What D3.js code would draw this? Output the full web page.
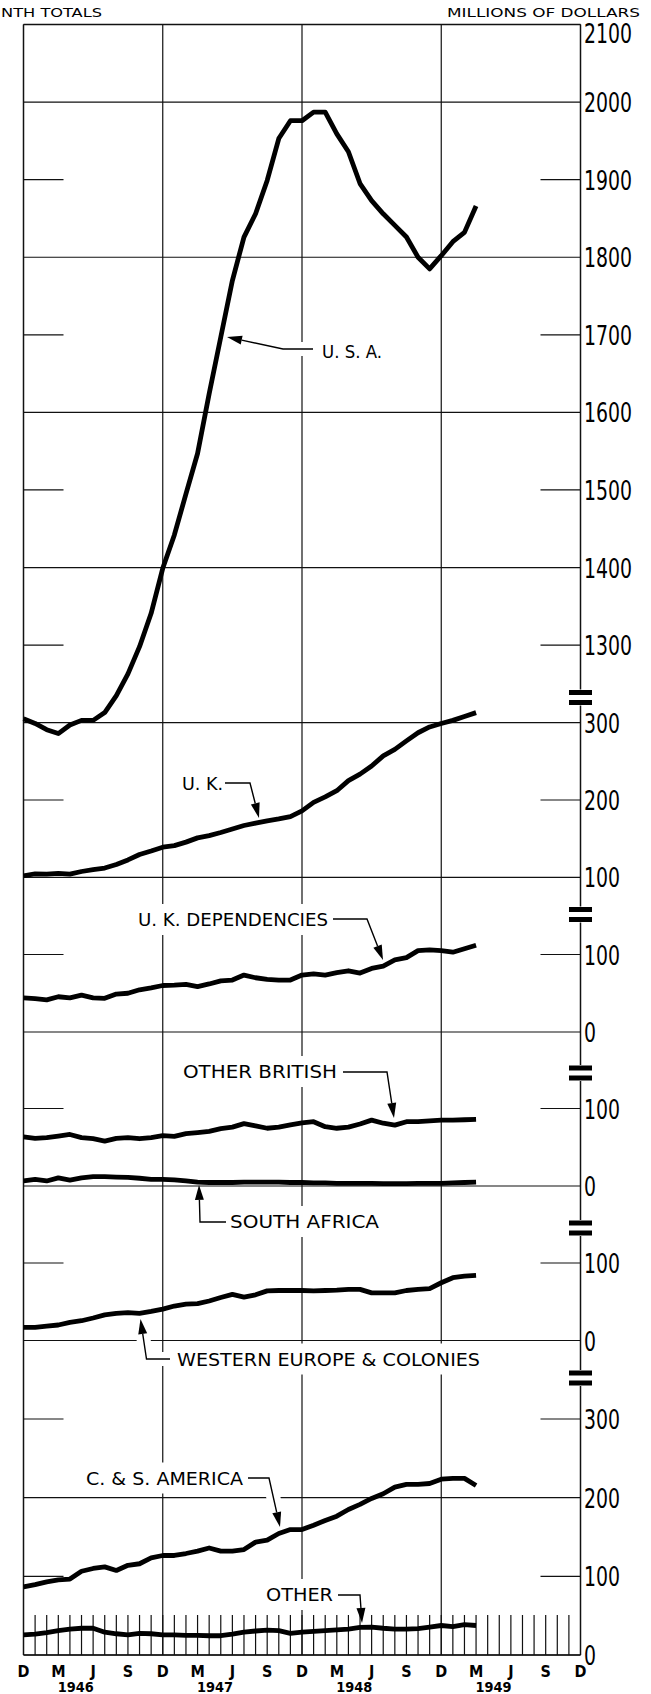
<!DOCTYPE html>
<html><head><meta charset="utf-8">
<script src="https://cdn.jsdelivr.net/npm/d3@7"></script>
<style>html,body{margin:0;padding:0;background:#fff;} svg{display:block;}</style>
</head><body>
<svg id="chart" width="651" height="1694"></svg>
<script>
// ---------- DATA (12-month totals, monthly Dec 1945 – Mar 1949) ----------
const monthLabels = ["D","M","J","S","D","M","J","S","D","M","J","S","D","M","J","S","D"];
const yearLabels = ["1946","1947","1948","1949"];

const usa = [1205,1199,1191,1186,1197,1203,1203,1213,1235,1263,1298,1341,1399,1442,1495,1547,1624,1697,1770,1826,1856,1899,1953,1976,1976,1987,1987,1959,1936,1895,1873,1856,1841,1826,1800,1785,1802,1820,1832,1866];
const uk = [102,104.5,104,105,104,107.5,110,112,116.5,122.5,129.5,134,139,141,145.5,151,154,158,162.5,167,170,173,175.5,178.5,186,197,204,212,225,233.5,244,257,265.5,276.5,287,294.5,299,303,308,313];
const ukDependencies = [44,43,41.5,45.5,44,47.5,44,43.5,49,50,54.5,57,60,60.5,61.5,58.5,62,66,67,73.5,70,68,67,67,73.5,75,73.5,76.5,79,76,82,85,93,96,105,106,105,103,107.5,112];
const otherBritish = [63.5,61.5,62.5,64.5,66.5,62.5,61,58,61.5,62.5,61,62.5,65,64,67.5,69,70.5,74,76,80.5,77.5,74.5,76,79,81.5,83,76.5,74.5,76,80,85,81,78.5,83,83,84,85,85,85.5,86];
const southAfrica = [6.5,8.5,6.5,10.5,7.5,10.5,12,12,11.5,11,10,8.5,8.5,8,6.5,5,4.5,4.5,4.5,5,5,5,5,4.5,4.5,4,4,3.5,3.5,3.5,3.5,3,3,3,3.5,3.5,3.5,4,4.5,5];
const westernEurope = [17,17,18.5,20,23.5,25.5,29,33,35,36,35,37.5,40.5,44.5,47,47.5,51,55.5,59.5,56,59,64,64.5,64.5,64.5,64,64.5,65,66,66,61.5,61.5,61.5,64.5,66,67,74.5,81,83,84];
const csAmerica = [86.5,89.5,93,95.5,96.5,106.5,110,112,107.5,114,116,123.5,126.5,126.5,129,132,136,132,132,134,143.5,146,154.5,159.5,159.5,165,171,176.5,185,191.5,199,205,213.5,217,217,218,223.5,224.5,224.5,215.5];
const other = [25.5,26.5,28.5,31,33,34,34,29,27,25.5,27.5,27,25.5,25.5,25,25,24.5,24.5,26.5,29,30.5,31.5,31,27.5,29,30,31,32,33,35,35.5,34,33,33,33.5,35.5,37.5,36,38.5,37.5];

const usaTicks = [2100,2000,1900,1800,1700,1600,1500,1400,1300];
const ukTicks = [300,200,100];
const ukDepTicks = [100,0];
const otherBritishTicks = [100,0];
const westernEuropeTicks = [100,0];
const csAmericaTicks = [300,200,100,0];

// ---------- LAYOUT ----------
const W = 651, H = 1694;
const svg = d3.select("#chart");
svg.append("rect").attr("width",W).attr("height",H).attr("fill","#fff");
const FONT = "'Liberation Sans Narrow','DejaVu Sans Condensed','Liberation Sans',sans-serif";

const x = d3.scaleLinear().domain([0,48]).range([23.5,580.5]);
const TOP = 24.5, BOTTOM = 1655;

const panels = [
  {series:[usa], ticks:usaTicks, y:d3.scaleLinear().domain([1200,2100]).range([722.7,TOP]), full:[2100,2000,1800,1600,1400,1200], short:[1900,1700,1500,1300]},
  {series:[uk], ticks:ukTicks, y:d3.scaleLinear().domain([100,300]).range([877.3,722.7]), full:[100], short:[200]},
  {series:[ukDependencies], ticks:ukDepTicks, y:d3.scaleLinear().domain([0,100]).range([1032,954.5]), full:[0], short:[100]},
  {series:[otherBritish,southAfrica], ticks:otherBritishTicks, y:d3.scaleLinear().domain([0,100]).range([1186,1108.5]), full:[0], short:[100]},
  {series:[westernEurope], ticks:westernEuropeTicks, y:d3.scaleLinear().domain([0,100]).range([1340.5,1263]), full:[0], short:[100]},
  {series:[csAmerica,other], ticks:csAmericaTicks, y:d3.scaleLinear().domain([0,300]).range([BOTTOM,1419]), full:[200,0], short:[300,100]}
];
const breaks = [697.5, 914.5, 1073, 1228, 1378];

const grid = svg.append("g").attr("stroke","#111").attr("stroke-width",1.2).attr("fill","none");
const L = x(0), R = x(48);

panels.forEach(p => {
  p.full.forEach(v => grid.append("line").attr("x1",L).attr("x2",R).attr("y1",p.y(v)).attr("y2",p.y(v)));
  p.short.forEach(v => {
    grid.append("line").attr("x1",L).attr("x2",L+40).attr("y1",p.y(v)).attr("y2",p.y(v));
    grid.append("line").attr("x1",R-40).attr("x2",R).attr("y1",p.y(v)).attr("y2",p.y(v));
  });
});
[12,24,36].forEach(k => grid.append("line").attr("x1",x(k)).attr("x2",x(k)).attr("y1",TOP).attr("y2",BOTTOM));
d3.range(1,48).forEach(k => grid.append("line").attr("x1",x(k)).attr("x2",x(k)).attr("y1",BOTTOM-40).attr("y2",BOTTOM));
grid.append("line").attr("x1",L).attr("x2",L).attr("y1",TOP).attr("y2",BOTTOM).attr("stroke-width",1.5);
grid.append("line").attr("x1",R).attr("x2",R).attr("y1",TOP).attr("y2",BOTTOM).attr("stroke-width",1.5);
grid.append("line").attr("x1",L).attr("x2",R).attr("y1",TOP).attr("y2",TOP).attr("stroke-width",1.5);
grid.append("line").attr("x1",L).attr("x2",R).attr("y1",BOTTOM).attr("y2",BOTTOM).attr("stroke-width",1.5);

// axis value labels
const lab = svg.append("g").attr("font-family",FONT).attr("fill","#000");
panels.forEach(p => {
  p.ticks.forEach(v => {
    const s = String(v);
    const yy = (v === 2100) ? TOP + 18 : p.y(v) + 10;
    lab.append("text").attr("x",R+3.5).attr("y",yy).attr("font-size",26)
      .attr("textLength", s.length*12).attr("lengthAdjust","spacingAndGlyphs").text(s);
  });
});

// break symbols
breaks.forEach(b => {
  svg.append("rect").attr("x",R-12).attr("y",b-8).attr("width",24).attr("height",16).attr("fill","#fff");
  svg.append("rect").attr("x",R-11.5).attr("y",b-7.5).attr("width",23).attr("height",5).attr("fill","#000");
  svg.append("rect").attr("x",R-11.5).attr("y",b+2.5).attr("width",23).attr("height",5).attr("fill","#000");
});

// annotations (label text + leader arrows)
const notes = [
  {text:"U. S. A.", x:322, base:358, w:60, path:[[313,349],[283,349],[227,337]]},
  {text:"U. K.", x:182, base:790, w:41, path:[[225,783],[250,783],[259,818]]},
  {text:"U. K. DEPENDENCIES", x:138, base:926, w:190, path:[[333,919],[367,919],[383,960]]},
  {text:"OTHER BRITISH", x:183, base:1078, w:154, path:[[343,1072],[387,1072],[394,1118]]},
  {text:"SOUTH AFRICA", x:230, base:1228, w:149, path:[[226,1222],[200,1222],[199,1185]]},
  {text:"WESTERN EUROPE & COLONIES", x:177, base:1365.5, w:303, path:[[170,1359],[146.5,1359],[140.5,1319]]},
  {text:"C. & S. AMERICA", x:86, base:1484.5, w:157, path:[[248,1478],[269,1478],[280,1527]]},
  {text:"OTHER", x:266, base:1601, w:67, path:[[338,1595],[360,1595],[362,1623]]}
];
const lineGen = d3.line();
function headBase(pts){
  const a = pts[pts.length-2], b = pts[pts.length-1];
  const dx=b[0]-a[0], dy=b[1]-a[1], len=Math.hypot(dx,dy);
  return [b[0]-dx/len*15, b[1]-dy/len*15];
}
// white knock-outs behind labels and leaders
notes.forEach(n => {
  svg.append("rect").attr("x",n.x-10).attr("y",n.base-13-9).attr("width",n.w+20).attr("height",13+18).attr("fill","#fff");
  svg.append("path").attr("d",lineGen(n.path.slice(0,-1).concat([headBase(n.path)]))).attr("fill","none")
    .attr("stroke","#fff").attr("stroke-width",14);
});

// data lines
panels.forEach(p => {
  p.series.forEach(s => {
    svg.append("path").datum(s)
      .attr("d", d3.line().x((d,i)=>x(i)).y(d=>p.y(d)))
      .attr("fill","none").attr("stroke","#000").attr("stroke-width",4.8)
      .attr("stroke-linejoin","round");
  });
});

// leaders + arrowheads + text (on top)
const overlay = svg.append("g").attr("font-family",FONT).attr("fill","#000");
notes.forEach(n => {
  const pts = n.path, hb = headBase(pts);
  overlay.append("path").attr("d",lineGen(pts.slice(0,-1).concat([hb]))).attr("fill","none")
    .attr("stroke","#000").attr("stroke-width",1.4);
  const a = pts[pts.length-2], b = pts[pts.length-1];
  const dx=b[0]-a[0], dy=b[1]-a[1], len=Math.hypot(dx,dy);
  const ux=dx/len, uy=dy/len, px=-uy, py=ux, hw=4.5;
  overlay.append("path").attr("d",`M${b[0]},${b[1]}L${hb[0]+px*hw},${hb[1]+py*hw}L${hb[0]-px*hw},${hb[1]-py*hw}Z`).attr("fill","#000");
  overlay.append("text").attr("x",n.x).attr("y",n.base).attr("font-size",18)
    .attr("textLength",n.w).attr("lengthAdjust","spacingAndGlyphs").text(n.text);
});

// headers
overlay.append("text").attr("x",1).attr("y",17).attr("font-size",13).attr("textLength",101).attr("lengthAdjust","spacingAndGlyphs").text("NTH TOTALS");
overlay.append("text").attr("x",447).attr("y",17).attr("font-size",13).attr("textLength",193).attr("lengthAdjust","spacingAndGlyphs").text("MILLIONS OF DOLLARS");

// month / year labels
monthLabels.forEach((m,i) => overlay.append("text").attr("x",x(i*3)).attr("y",1677).attr("text-anchor","middle")
  .attr("font-size",16).attr("font-weight","bold").text(m));
yearLabels.forEach((yv,i) => overlay.append("text").attr("x",x(4.5+12*i)).attr("y",1692).attr("text-anchor","middle")
  .attr("font-size",14).attr("font-weight","bold").attr("textLength",36).attr("lengthAdjust","spacingAndGlyphs").text(yv));
</script>
</body></html>
